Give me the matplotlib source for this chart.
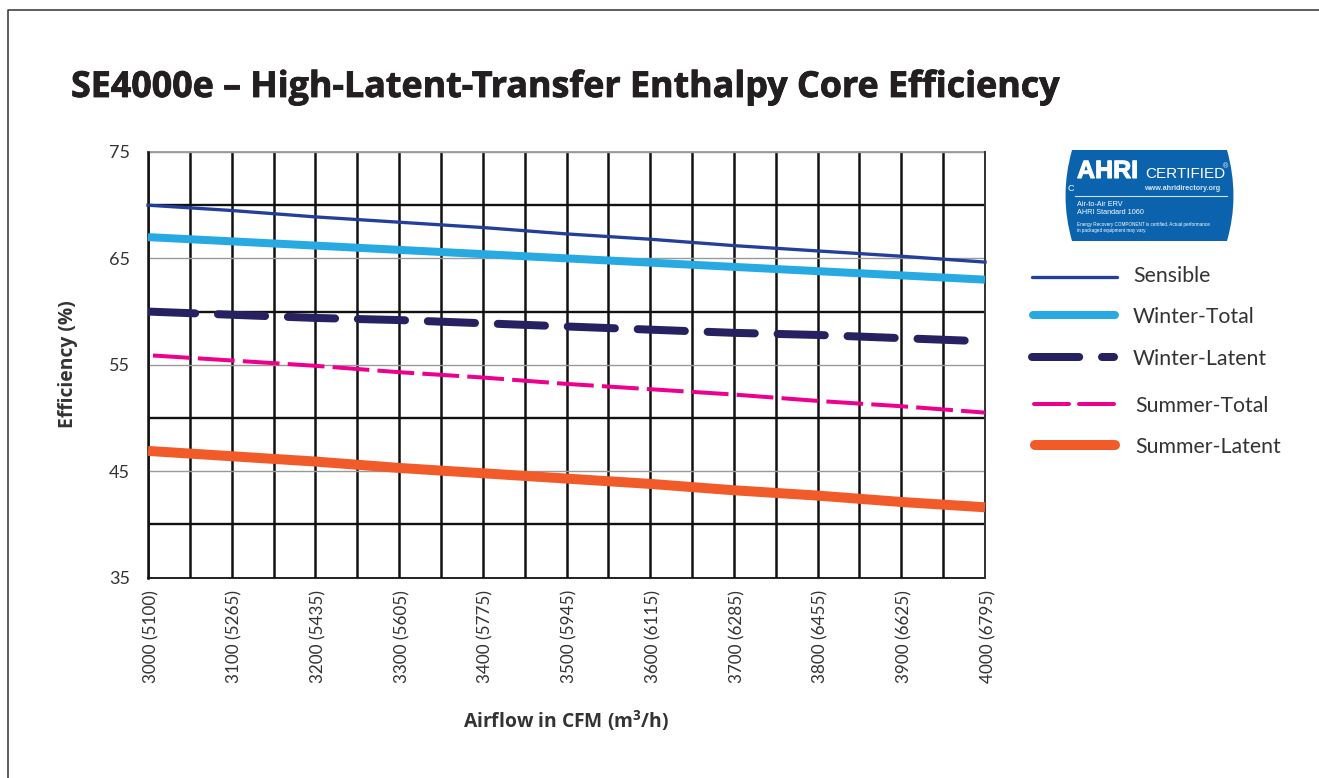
#!/usr/bin/env python3
# -*- coding: utf-8 -*-
import matplotlib
matplotlib.use('Agg')
import matplotlib.pyplot as plt
import matplotlib.patheffects as pe
from matplotlib.path import Path
from matplotlib.patches import PathPatch
from matplotlib.transforms import ScaledTranslation

plt.rcParams['font.family'] = ['Lato', 'DejaVu Sans']

# Data
# --------------
cfm = [3000, 3100, 3200, 3300, 3400, 3500, 3600, 3700, 3800, 3900, 4000]
m3h = [5100, 5265, 5435, 5605, 5775, 5945, 6115, 6285, 6455, 6625, 6795]
sensible = [70.0, 69.5, 68.9, 68.4, 67.9, 67.3, 66.8, 66.2, 65.7, 65.2, 64.65]
winter_total = [67.0, 66.6, 66.2, 65.8, 65.4, 65.0, 64.6, 64.2, 63.8, 63.4, 63.0]
winter_latent = [60.0, 59.7, 59.4, 59.2, 58.9, 58.6, 58.3, 58.0, 57.8, 57.5, 57.2]
summer_total = [55.9, 55.4, 54.9, 54.3, 53.8, 53.2, 52.7, 52.2, 51.6, 51.1, 50.5]
summer_latent = [46.9, 46.4, 45.9, 45.3, 44.8, 44.3, 43.8, 43.2, 42.7, 42.1, 41.6]
y_major = [35, 45, 55, 65, 75]
y_minor = [40, 50, 60, 70]
x_minor = [3050, 3150, 3250, 3350, 3450, 3550, 3650, 3750, 3850, 3950]

W, H = 1319, 778
px = 72 / 100  # one pixel in points

# Styles shared by the chart and the legend keys
styles = {
    'Sensible': dict(color='#243f99', lw=3.3 * px),
    'Winter-Total': dict(color='#27aae1', lw=8 * px),
    'Winter-Latent': dict(color='#262262', lw=8 * px, linestyle=(0, (5.9, 2.85)), dash_capstyle='round'),
    'Summer-Total': dict(color='#ec008c', lw=4 * px, linestyle=(10, (9.2, 2.05))),
    'Summer-Latent': dict(color='#f15a29', lw=10 * px),
}

fig = plt.figure(figsize=(W / 100, H / 100), dpi=100, facecolor='w')

# Chart
# --------------
ax = fig.add_axes([148 / W, 1 - 577.5 / H, (985 - 148) / W, (577.5 - 152) / H])
ax.set_xlim(3000, 4000)
ax.set_ylim(35, 75)
ax.set_xticks(cfm)
ax.set_xticklabels(['%d (%d)' % (c, m) for c, m in zip(cfm, m3h)], rotation=90, fontsize=12.3, color='#333333')
ax.set_xticks(x_minor, minor=True)
ax.set_yticks(y_major)
ax.set_yticks(y_minor, minor=True)
ax.tick_params(axis='both', which='both', length=0)
ax.tick_params(axis='x', pad=9)
ax.tick_params(axis='y', labelsize=13, labelcolor='#333333', pad=13)
# the rotated labels sit a little left of their ticks otherwise
for lab in ax.get_xticklabels():
    lab.set_transform(lab.get_transform() + ScaledTranslation(3 / 100, 0, fig.dpi_scale_trans))
ax.set_axisbelow(True)
ax.grid(which='major', axis='y', color='#999999', lw=1.0)
ax.grid(which='minor', axis='y', color='#111111', lw=1.7)
ax.grid(which='both', axis='x', color='#111111', lw=1.8)
for side, spine in ax.spines.items():
    spine.set_visible(False)
ax.axhline(35, color='#111111', lw=1.3, clip_on=False, zorder=1.5)
ax.axhline(75, color='#999999', lw=1.3, clip_on=False, zorder=1.5)
ax.axvline(3000, color='#111111', lw=1.8, clip_on=False, zorder=1.5)
ax.axvline(4000, color='#333333', lw=1.4, clip_on=False, zorder=1.5)

ax.plot(cfm, sensible, zorder=3, clip_on=False, **styles['Sensible'])
ax.plot(cfm, winter_total, zorder=3, clip_on=False, solid_capstyle='butt', **styles['Winter-Total'])
ax.plot(cfm, winter_latent, zorder=3, **styles['Winter-Latent'])
ax.plot(cfm, summer_total, zorder=3, **styles['Summer-Total'])
ax.plot(cfm, summer_latent, zorder=3, clip_on=False, solid_capstyle='butt', **styles['Summer-Latent'])

# Overlay in pixel coordinates for frame, titles, legend and badge
# --------------
ov = fig.add_axes([0, 0, 1, 1], zorder=5)
ov.set_xlim(0, W)
ov.set_ylim(H, 0)
ov.axis('off')
ov.patch.set_alpha(0)

ov.plot([8, 8, W], [H, 10, 10], color='#333333', lw=1.1)
title = ov.text(71, 88, 'SE4000e \u2013 High-Latent-Transfer Enthalpy Core Efficiency', fontsize=25.8,
                fontweight='bold', color='#231f20', va='center', ha='left', family='Open Sans')
title.set_path_effects([pe.withStroke(linewidth=0.6, foreground='#231f20')])
ov.text(68, 364, 'Efficiency (%)', rotation=90, fontsize=13.9, fontweight='bold', color='#333333',
        va='center', ha='center', family='Open Sans')
ov.text(566, 721, 'Airflow in CFM (m$\\mathregular{^3}$/h)', fontsize=13.9, fontweight='bold', color='#333333',
        va='center', ha='center', family='Open Sans')

# Legend
legend_rows = [
    ('Sensible', 1032, 1117, 277, 1133, 276),
    ('Winter-Total', 1033, 1115, 315, 1133, 317),
    ('Winter-Latent', 1032, 1114, 357, 1133, 359),
    ('Summer-Total', 1034, 1114, 404, 1135, 406),
    ('Summer-Latent', 1035, 1115, 445, 1135, 447),
]
for name, x0, x1, y, tx, ty in legend_rows:
    style = dict(styles[name])
    if name == 'Summer-Total':
        style['linestyle'] = (0, (8.75, 2.5))
        style['dash_capstyle'] = 'round'
    ov.plot([x0, x1], [y, y], solid_capstyle='round', **style)
    ov.text(tx, ty, name, fontsize=15.3, color='#333333', va='center', ha='left')

# AHRI badge
verts = [(1072, 150), (1227, 150), (1240, 196), (1227, 241), (1072, 241), (1059, 196), (1072, 150)]
codes = [Path.MOVETO, Path.LINETO, Path.CURVE3, Path.CURVE3, Path.LINETO, Path.CURVE3, Path.CURVE3]
ov.add_patch(PathPatch(Path(verts, codes), facecolor='#0b63ae', edgecolor='none'))
ov.text(1077, 171, 'AHRI', fontsize=18, fontweight='bold', color='w', va='center', ha='left', family='Liberation Sans',
        path_effects=[pe.withStroke(linewidth=0.8, foreground='w')])
ov.plot([1076, 1139], [174, 169], color='#0b63ae', lw=1.4)
ov.text(1145, 174, 'CERTIFIED', fontsize=11, color='w', va='center', ha='left', family='Liberation Sans')
ov.text(1223, 167, '\u00ae', fontsize=5, color='w', va='center', ha='left', family='Liberation Sans')
ov.text(1144, 188, 'www.ahridirectory.org', fontsize=5.2, fontweight='bold', color='#d7e6f4', va='center', ha='left', family='Liberation Sans')
ov.text(1068, 188, 'C', fontsize=6.5, color='w', va='center', ha='left', family='Liberation Sans')
ov.plot([1075, 1227], [196, 196], color='#cfe0f0', lw=0.8)
ov.text(1077, 204.5, 'Air-to-Air ERV', fontsize=5.2, color='w', va='center', ha='left', family='Liberation Sans')
ov.text(1077, 212.5, 'AHRI Standard 1060', fontsize=5.2, color='w', va='center', ha='left', family='Liberation Sans')
ov.text(1077, 224.5, 'Energy Recovery COMPONENT is certified. Actual performance', fontsize=3.3, color='w', va='center', ha='left', family='Liberation Sans')
ov.text(1077, 230, 'in packaged equipment may vary.', fontsize=3.3, color='w', va='center', ha='left', family='Liberation Sans')

fig.savefig('out.png', dpi=100, facecolor='w')
